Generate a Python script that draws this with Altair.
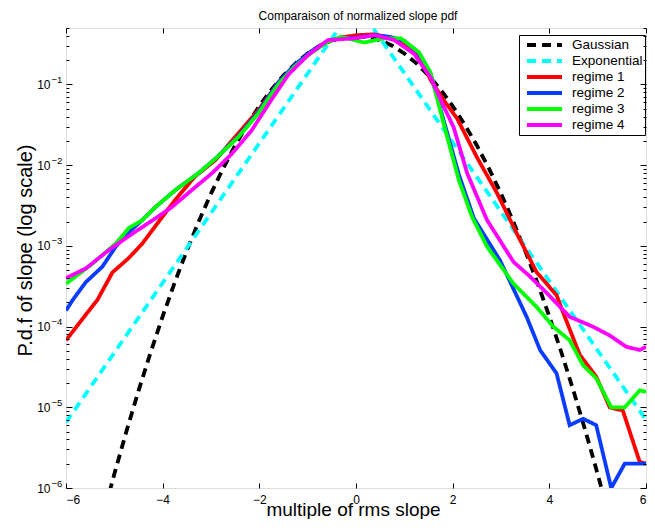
import altair as alt
import pandas as pd

FONT = "Liberation Sans"

series_names = ["Gaussian", "Exponential", "regime 1", "\u00a0regime 2", "regime 3", "regime 4"]
series_colors = ["#000000", "#00ffff", "#ff0000", "#0a3cff", "#00ff00", "#ff00ff"]
series_dashes = [[9, 6], [9, 6], [1, 0], [1, 0], [1, 0], [1, 0]]

gauss_x = [-6, -5.75, -5.5, -5.25, -5, -4.75, -4.5, -4.25, -4, -3.75, -3.5, -3.25, -3,
           -2.75, -2.5, -2.25, -2, -1.75, -1.5, -1.25, -1, -0.75, -0.5, -0.25, 0,
           0.25, 0.5, 0.75, 1, 1.25, 1.5, 1.75, 2, 2.25, 2.5, 2.75, 3, 3.25, 3.5,
           3.75, 4, 4.25, 4.5, 4.75, 5, 5.25, 5.5, 5.75, 6]
gauss_y = [6.08e-9, 2.64e-8, 1.077e-7, 4.13e-7, 1.487e-6, 5.03e-6, 1.598e-5, 4.77e-5,
           1.338e-4, 3.526e-4, 8.727e-4, 2.029e-3, 4.432e-3, 9.094e-3, 1.753e-2, 3.174e-2,
           5.399e-2, 8.628e-2, 0.1295, 0.1826, 0.2420, 0.3011, 0.3521, 0.3867, 0.3989,
           0.3867, 0.3521, 0.3011, 0.2420, 0.1826, 0.1295, 8.628e-2, 5.399e-2, 3.174e-2,
           1.753e-2, 9.094e-3, 4.432e-3, 2.029e-3, 8.727e-4, 3.526e-4, 1.338e-4, 4.77e-5,
           1.598e-5, 5.03e-6, 1.487e-6, 4.13e-7, 1.077e-7, 2.64e-8, 6.08e-9]

expo_x = [-6, 0, 6]
expo_y = [6.5e-6, 1.0, 7.0e-6]

r1_x = [-6, -5.6, -5.35, -5.04, -4.70, -4.42, -4.08, -3.74, -3.33, -2.91, -2.50, -2.02,
        -1.61, -1.27, -0.93, -0.58, -0.30, 0.0, 0.38, 0.70, 1.0, 1.30, 1.55, 1.82, 2.09,
        2.50, 2.92, 3.33, 3.74, 4.15, 4.32, 4.63, 4.97, 5.25, 5.52, 5.87, 6.0]
r1_y = [6.76e-5, 1.38e-4, 2.14e-4, 4.68e-4, 7.08e-4, 1.07e-3, 2.0e-3, 3.72e-3, 7.24e-3,
        1.15e-2, 2.24e-2, 4.79e-2, 0.105, 0.17, 0.251, 0.339, 0.38, 0.407, 0.417, 0.38,
        0.316, 0.229, 0.112, 6.31e-2, 3.8e-2, 1.26e-2, 4.47e-3, 1.41e-3, 4.68e-4, 2.45e-4,
        1.32e-4, 4.47e-5, 2.4e-5, 1.0e-5, 9.1e-6, 2.1e-6, 2.0e-6]

r2_x = [-6, -5.86, -5.59, -5.25, -4.97, -4.70, -4.42, -4.15, -3.74, -3.26, -2.91, -2.43,
        -2.02, -1.61, -1.27, -0.93, -0.58, -0.30, 0.0, 0.38, 0.70, 1.0, 1.30, 1.54, 1.82,
        2.13, 2.44, 2.98, 3.53, 3.81, 4.15, 4.42, 4.70, 4.97, 5.28, 5.56, 6.0]
r2_y = [1.58e-4, 2.14e-4, 3.55e-4, 5.5e-4, 9.8e-4, 1.48e-3, 2.09e-3, 3.02e-3, 4.9e-3,
        7.94e-3, 1.2e-2, 2.29e-2, 4.57e-2, 0.105, 0.174, 0.257, 0.347, 0.372, 0.38, 0.407,
        0.389, 0.347, 0.245, 0.138, 3.47e-2, 7.59e-3, 2.19e-3, 6.6e-4, 1.32e-4, 5.1e-5,
        2.63e-5, 6.0e-6, 7.2e-6, 6.0e-6, 1.0e-6, 2.0e-6, 2.0e-6]

r3_x = [-6, -5.45, -4.97, -4.70, -4.42, -4.15, -3.74, -3.26, -2.91, -2.43, -2.02, -1.61,
        -1.27, -0.93, -0.58, -0.31, 0.17, 0.58, 0.93, 1.30, 1.54, 1.82, 2.13, 2.40, 2.71,
        3.26, 3.74, 4.08, 4.42, 4.70, 4.97, 5.28, 5.56, 5.87, 6.0]
r3_y = [3.39e-4, 6.03e-4, 1.07e-3, 1.66e-3, 2.09e-3, 3.02e-3, 4.9e-3, 7.94e-3, 1.2e-2,
        2.24e-2, 4.37e-2, 0.1, 0.166, 0.245, 0.339, 0.389, 0.331, 0.372, 0.372, 0.251,
        0.141, 3.16e-2, 6.46e-3, 2.29e-3, 9.8e-4, 3.39e-4, 1.74e-4, 1.0e-4, 6.76e-5,
        3.31e-5, 2.29e-5, 1.0e-5, 1.0e-5, 1.62e-5, 1.55e-5]

r4_x = [-6, -5.59, -5.11, -4.63, -4.15, -3.81, -3.40, -2.98, -2.57, -2.16, -1.75, -1.40,
        -1.0, -0.58, -0.03, 0.38, 0.79, 1.20, 1.54, 1.82, 2.02, 2.30, 2.71, 3.26, 3.60,
        3.94, 4.42, 4.90, 5.25, 5.59, 5.87, 6.0]
r4_y = [3.98e-4, 5.25e-4, 8.91e-4, 1.41e-3, 2.19e-3, 3.02e-3, 4.9e-3, 7.94e-3, 1.38e-2,
        2.69e-2, 6.46e-2, 0.132, 0.229, 0.355, 0.372, 0.407, 0.355, 0.24, 0.123, 5.25e-2,
        2.95e-2, 7.94e-3, 2.09e-3, 6.31e-4, 4.17e-4, 2.63e-4, 1.32e-4, 1.0e-4, 7.76e-5,
        5.62e-5, 5.13e-5, 5.62e-5]

x_ticks = [-6, -4, -2, 0, 2, 4, 6]
y_label_ticks = [1e-6, 1e-5, 1e-4, 1e-3, 1e-2, 1e-1]
y_minor_ticks = [m * 10.0 ** e for e in range(-6, 0) for m in range(1, 10) if m * 10.0 ** e <= 0.5]

all_x = [gauss_x, expo_x, r1_x, r2_x, r3_x, r4_x]
all_y = [gauss_y, expo_y, r1_y, r2_y, r3_y, r4_y]
rows = []
for name, xs_, ys_ in zip(series_names, all_x, all_y):
    for xv, yv in zip(xs_, ys_):
        rows.append({"series": name, "x": xv, "y": yv})
df = pd.DataFrame(rows)

W, H = 580, 460
x_scale = alt.Scale(domain=[-6, 6], nice=False, zero=False)
y_scale = alt.Scale(type="log", domain=[1e-6, 0.5], nice=False)
color_scale = alt.Scale(domain=series_names, range=series_colors)
dash_scale = alt.Scale(domain=series_names, range=series_dashes)

legend = alt.Legend(title=None, orient="none", legendX=453, legendY=7, direction="vertical",
                    strokeColor="black", fillColor="white", padding=2, cornerRadius=0,
                    symbolType="stroke", symbolSize=1225, symbolStrokeWidth=4, symbolOffset=4,
                    labelFont=FONT, labelFontSize=13.5, labelColor="black", labelOffset=8,
                    labelLimit=200, clipHeight=16, rowPadding=0)


def series_layer(name):
    return alt.Chart(df).transform_filter(
        alt.FieldEqualPredicate(field="series", equal=name)
    ).mark_line(clip=True, strokeWidth=3.8).encode(
        x=alt.X("x:Q", scale=x_scale, axis=None),
        y=alt.Y("y:Q", scale=y_scale, axis=None),
        color=alt.Color("series:N", scale=color_scale, legend=legend),
        strokeDash=alt.StrokeDash("series:N", scale=dash_scale, legend=legend),
    )


major_test = "abs(log(datum.value)/LN10 - round(log(datum.value)/LN10)) < 0.001"
y_tick_size = {"condition": {"test": major_test, "value": 6}, "value": 3}


def axis_layer(xaxis, yaxis):
    return alt.Chart(df).mark_point(opacity=0, clip=True).encode(
        x=alt.X("x:Q", scale=x_scale, axis=xaxis),
        y=alt.Y("y:Q", scale=y_scale, axis=yaxis),
    )


label_axes = axis_layer(
    alt.Axis(orient="bottom", values=x_ticks, ticks=False, domain=False, grid=False,
             labelFont=FONT, labelFontSize=12, labelColor="black", labelPadding=6,
             title="multiple of rms slope", titleFont=FONT, titleFontSize=19,
             titleFontWeight="normal", titleColor="black", titleX=287, titleY=27,
             titleBaseline="alphabetic", titleAnchor="middle"),
    alt.Axis(orient="left", values=y_label_ticks, ticks=False, domain=False, grid=False,
             labelFont=FONT, labelFontSize=12, labelColor="black", labelPadding=16,
             labelExpr="'10'",
             title="P.d.f of slope (log scale)", titleFont=FONT, titleFontSize=20,
             titleFontWeight="normal", titleColor="black", titleX=-40.5, titleY=222,
             titleBaseline="middle", titleAnchor="middle"),
)

exponent_axis = axis_layer(
    None,
    alt.Axis(orient="left", values=y_label_ticks, ticks=False, domain=False, grid=False,
             labelFont=FONT, labelFontSize=9.5, labelColor="black", labelPadding=15,
             labelAlign="left", labelOffset=-5,
             labelExpr="'\u2212' + abs(round(log(datum.value)/LN10))", title=None),
)

ticks_a = axis_layer(
    alt.Axis(orient="top", offset=-H, values=x_ticks, labels=False, ticks=True, tickSize=5,
             tickColor="black", domain=False, grid=False, title=None, zindex=1),
    alt.Axis(orient="right", offset=-W, values=y_minor_ticks, labels=False, ticks=True,
             tickSize=y_tick_size, tickColor="black", domain=False, grid=False, title=None,
             zindex=1),
)
ticks_b = axis_layer(
    alt.Axis(orient="bottom", offset=-H, values=x_ticks, labels=False, ticks=True, tickSize=5,
             tickColor="black", domain=False, grid=False, title=None, zindex=1),
    alt.Axis(orient="left", offset=-W, values=y_minor_ticks, labels=False, ticks=True,
             tickSize=y_tick_size, tickColor="black", domain=False, grid=False, title=None,
             zindex=1),
)

layers = [series_layer(n) for n in series_names] + [label_axes, exponent_axis, ticks_a, ticks_b]

chart = alt.layer(*layers).resolve_axis(
    x="independent", y="independent"
).properties(
    width=W, height=H,
    padding={"left": 58, "top": 20, "right": 1, "bottom": 31},
    autosize="none",
    title=alt.TitleParams("Comparaison of normalized slope pdf", font=FONT, fontSize=12,
                          fontWeight="normal", color="black", anchor="middle",
                          frame="group", offset=5, dx=2),
).configure_view(stroke="black", strokeWidth=1).configure(background="white")

chart.save("out.html", embed_options={"renderer": "svg", "actions": False})
